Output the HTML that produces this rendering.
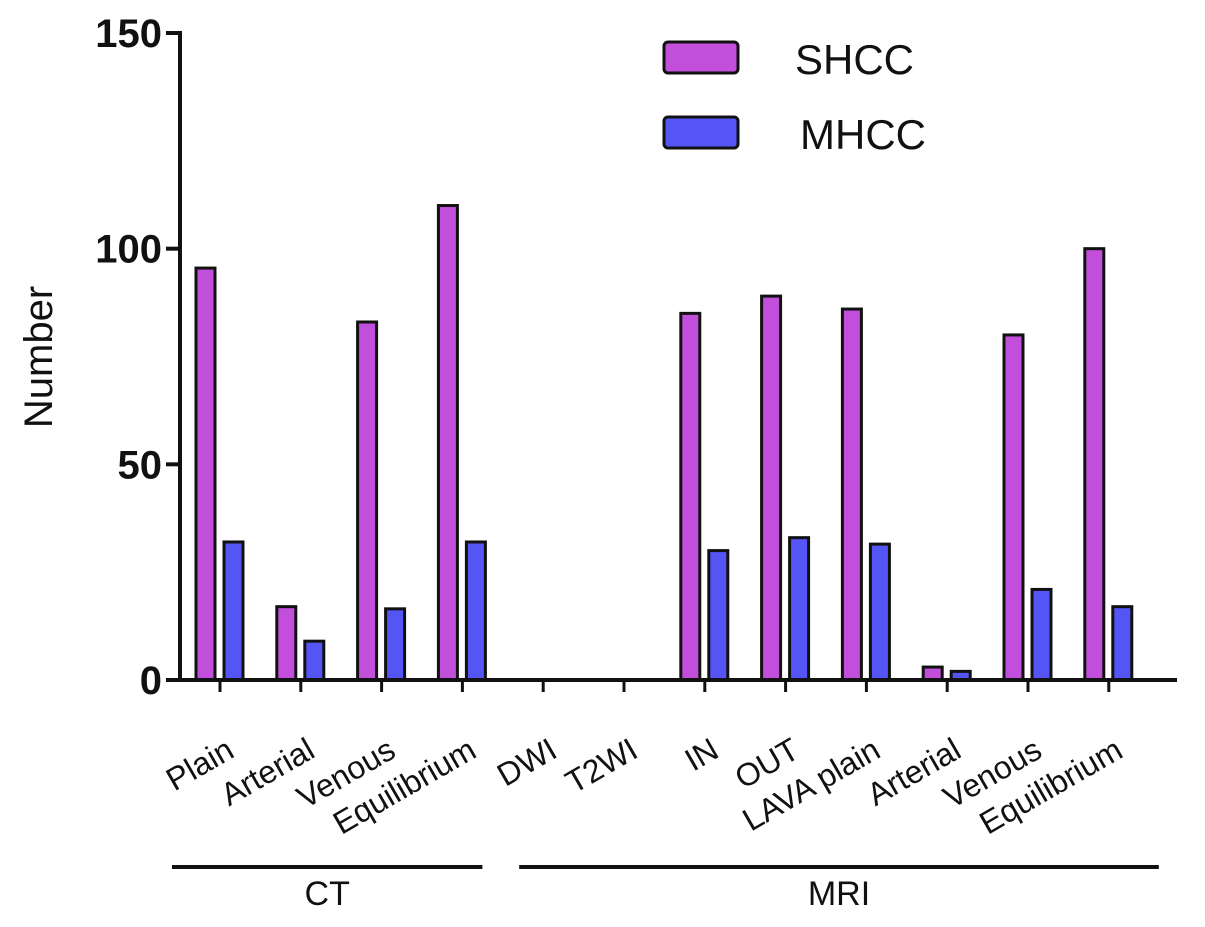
<!DOCTYPE html>
<html><head><meta charset="utf-8"><style>
html,body{margin:0;padding:0;background:#fff;}
svg text{font-family:"Liberation Sans",Arial,sans-serif;}
</style></head><body>
<svg id="chart" width="1205" height="922" viewBox="0 0 1205 922" xmlns="http://www.w3.org/2000/svg">
<g id="plot"></g>
</svg>
<script>
const categories=["Plain","Arterial","Venous","Equilibrium","DWI","T2WI","IN","OUT","LAVA plain","Arterial","Venous","Equilibrium"];
const shcc=[95.5,17,83,110,0,0,85,89,86,3,80,100];
const mhcc=[32,9,16.5,32,0,0,30,33,31.5,2,21,17];
const yTicks=[0,50,100,150];
const groups=[{label:"CT",from:0,to:3},{label:"MRI",from:4,to:11}];

const NS="http://www.w3.org/2000/svg";
const g=document.getElementById('plot');
const y0=680, yTop=33, x0=180;
const yScale=v=>y0-(v/150)*(y0-yTop);
const xCenter=i=>220+i*80.8;
function mk(tag,attrs,parent){const e=document.createElementNS(NS,tag);for(const k in attrs)e.setAttribute(k,attrs[k]);(parent||g).appendChild(e);return e;}

categories.forEach((c,i)=>{
  const cx=xCenter(i);
  const b1=mk('rect',{x:cx-24,y:yScale(shcc[i]),width:19,height:y0-yScale(shcc[i]),fill:'#c24fdb',stroke:'#111','stroke-width':3});
  
  
  const b2=mk('rect',{x:cx+4,y:yScale(mhcc[i]),width:19,height:y0-yScale(mhcc[i]),fill:'#5555f5',stroke:'#111','stroke-width':3});
  
  
  const t=mk('line',{x1:cx,y1:y0,x2:cx,y2:y0+12,stroke:'#111','stroke-width':3});
  
  
  const lx=cx+16, ly=y0+76;
  const tx=mk('text',{x:lx,y:ly,'text-anchor':'end','font-size':32,fill:'#111',transform:`rotate(-30 ${lx} ${ly})`});
  tx.textContent=c;
  
  
});
const xa=mk('line',{x1:x0,y1:y0,x2:1177,y2:y0,stroke:'#111','stroke-width':4});


const ya=mk('line',{x1:x0,y1:yTop-2,x2:x0,y2:y0+2,stroke:'#111','stroke-width':4});


yTicks.forEach(v=>{
  const t=mk('line',{x1:x0-14,y1:yScale(v),x2:x0,y2:yScale(v),stroke:'#111','stroke-width':4});
  
  
  const tx=mk('text',{x:x0-18,y:yScale(v)+14,'text-anchor':'end','font-size':40,'font-weight':'bold',fill:'#111'});
  tx.textContent=v;
  
  
});
const yt=mk('text',{x:52,y:357,'text-anchor':'middle','font-size':40,fill:'#111',transform:'rotate(-90 52 357)'});
yt.textContent='Number';


groups.forEach((gr,k)=>{
  const a=k===0?xCenter(gr.from)-48:xCenter(gr.from)-24;
  const b=k===0?xCenter(gr.to)+20:xCenter(gr.to)+50;
  const l=mk('line',{x1:a,y1:867,x2:b,y2:867,stroke:'#111','stroke-width':4});
  
  
  const tx=mk('text',{x:(a+b)/2,y:905,'text-anchor':'middle','font-size':34,fill:'#111'});
  tx.textContent=gr.label;
  
  
});
[['SHCC','#c24fdb',42,795],['MHCC','#5555f5',117,800]].forEach(([n,c,y,tx0])=>{
  const r=mk('rect',{x:664,y:y,width:74,height:31,rx:4,fill:c,stroke:'#111','stroke-width':3});
  
  
  const t=mk('text',{x:tx0,y:y+32,'font-size':42,fill:'#111'});
  t.textContent=n;
  
  
});
</script>
</body></html>
